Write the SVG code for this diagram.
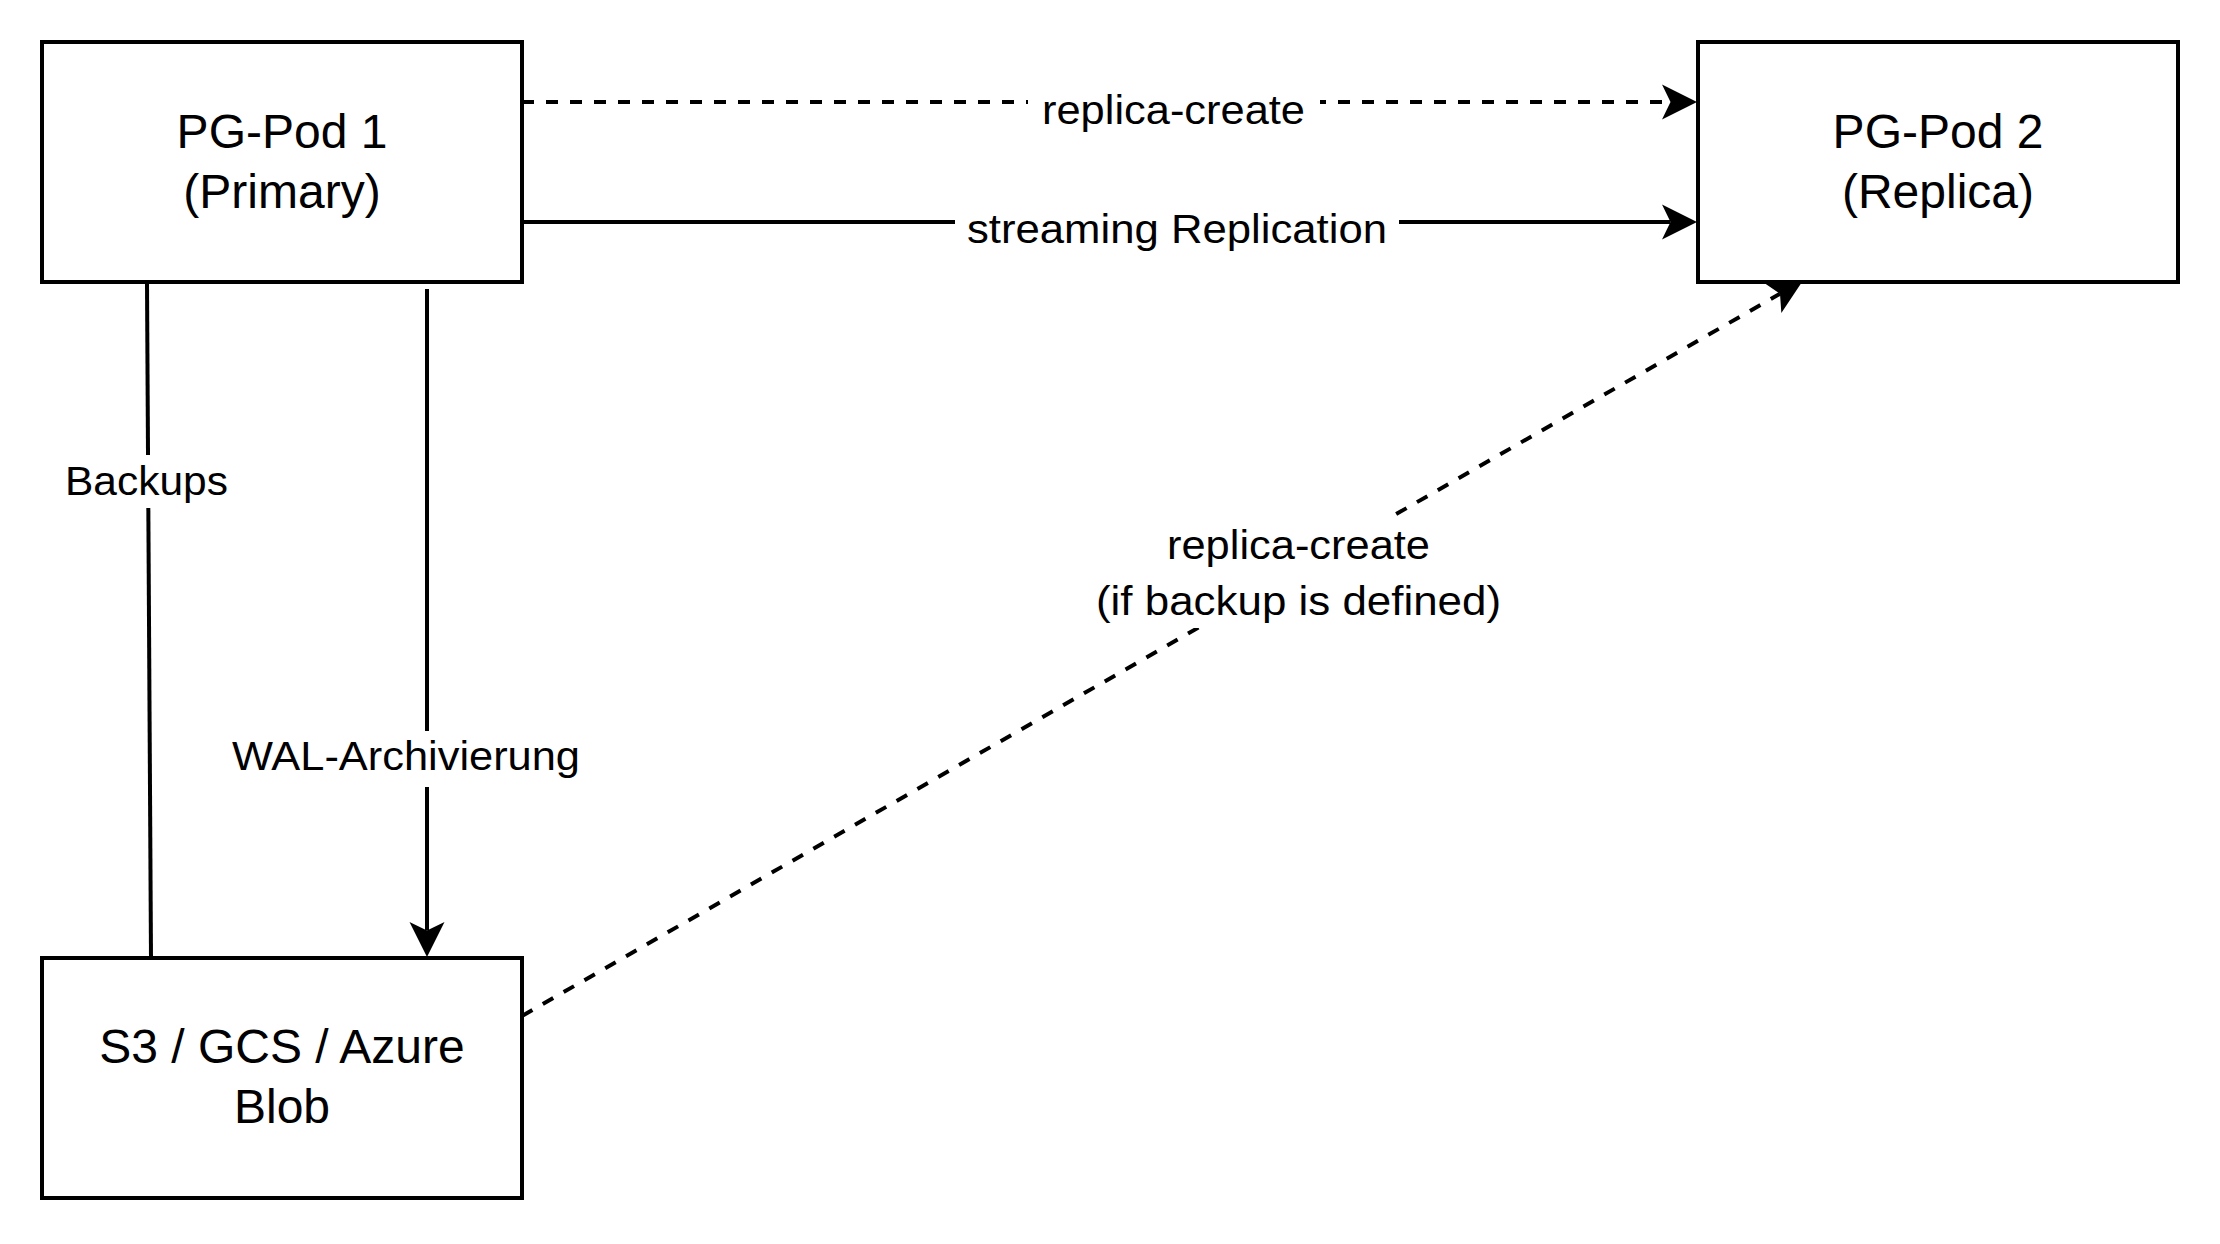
<svg xmlns="http://www.w3.org/2000/svg" width="2220" height="1244" viewBox="0 0 2220 1244">
<style>
.node{fill:#fff;stroke:#000;stroke-width:4}
.ntext{font-family:"Liberation Sans",Arial,sans-serif;font-size:48px;fill:#000;text-anchor:middle}
.edge{fill:none;stroke:#000;stroke-width:4}
.dash{stroke-dasharray:12 12}
.lbg{fill:#fff;stroke:none}
.etext{font-family:"Liberation Sans",Arial,sans-serif;font-size:41px;fill:#000;text-anchor:start}
</style>
<defs>
<marker id="arrow" markerUnits="userSpaceOnUse" viewBox="-9 -18 36 36" markerWidth="36" markerHeight="36" refX="0" refY="0" orient="auto" overflow="visible">
<path d="M26.5,0 L-8.5,-17.5 L0,0 L-8.5,17.5 Z" fill="#000"/>
</marker>
</defs>
<rect width="2220" height="1244" fill="#fff"/>
<g id="edges">
<g id="edge-replica-create">
<path class="edge dash" d="M522,102 H1670.5" marker-end="url(#arrow)"/>
<rect class="lbg" x="1028" y="85" width="292" height="52"/>
<text class="etext" x="1042" y="124" textLength="263" lengthAdjust="spacingAndGlyphs">replica-create</text>
</g>
<g id="edge-streaming">
<path class="edge" d="M522,222 H1670.5" marker-end="url(#arrow)"/>
<rect class="lbg" x="955" y="204" width="444" height="52"/>
<text class="etext" x="967" y="243" textLength="420" lengthAdjust="spacingAndGlyphs">streaming Replication</text>
</g>
<g id="edge-backups">
<path class="edge" d="M147,284 L151,958"/>
<rect class="lbg" x="60" y="455" width="174" height="53"/>
<text class="etext" x="65" y="495" textLength="163" lengthAdjust="spacingAndGlyphs">Backups</text>
</g>
<g id="edge-wal">
<path class="edge" d="M427,289 V930.5" marker-end="url(#arrow)"/>
<rect class="lbg" x="225" y="731" width="362" height="56"/>
<text class="etext" x="232" y="770" textLength="348" lengthAdjust="spacingAndGlyphs">WAL-Archivierung</text>
</g>
<g id="edge-replica-create-backup">
<path class="edge dash" d="M522,1016 L1780,293.7" marker-end="url(#arrow)"/>
<rect class="lbg" x="1088" y="518" width="422" height="110"/>
<text class="etext" x="1167" y="559" textLength="263" lengthAdjust="spacingAndGlyphs">replica-create</text>
<text class="etext" x="1096" y="615" textLength="405" lengthAdjust="spacingAndGlyphs">(if backup is defined)</text>
</g>
</g>
<g id="node-pgpod1">
<rect class="node" x="42" y="42" width="480" height="240"/>
<text class="ntext" x="282" y="148">PG-Pod 1</text>
<text class="ntext" x="282" y="208">(Primary)</text>
</g>
<g id="node-pgpod2">
<rect class="node" x="1698" y="42" width="480" height="240"/>
<text class="ntext" x="1938" y="148">PG-Pod 2</text>
<text class="ntext" x="1938" y="208">(Replica)</text>
</g>
<g id="node-storage">
<rect class="node" x="42" y="958" width="480" height="240"/>
<text class="ntext" x="282" y="1063">S3 / GCS / Azure</text>
<text class="ntext" x="282" y="1123">Blob</text>
</g>
</svg>
